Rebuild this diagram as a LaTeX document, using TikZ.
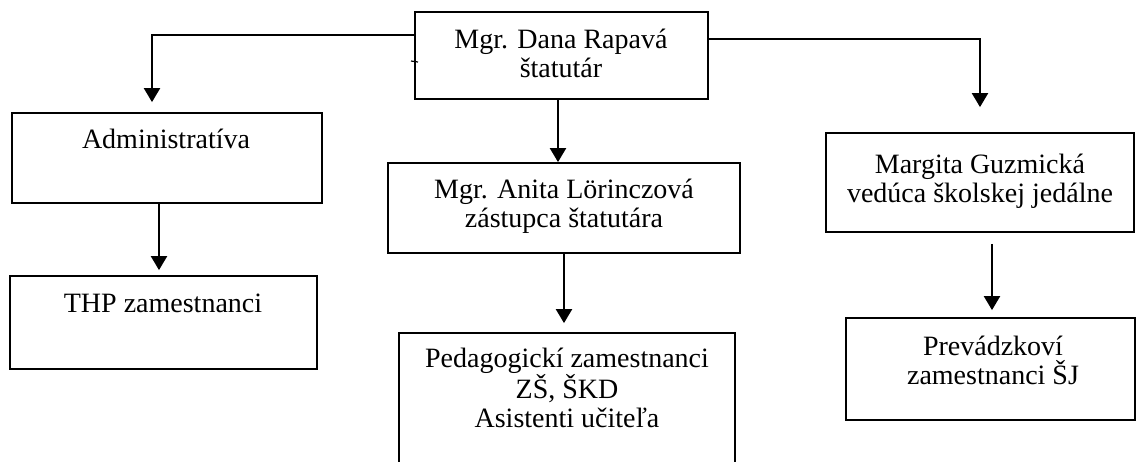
\documentclass[tikz,border=0pt]{standalone}
\usepackage{fontspec}
\setmainfont{Liberation Serif}
\usetikzlibrary{positioning}
\usetikzlibrary{arrows.meta}

\tikzset{
  box/.style={draw, rectangle, line width=1.8pt, inner sep=0pt},
  lbl/.style={align=center, inner sep=0pt, anchor=base, font=\fontsize{28}{28.5}\selectfont},
  arr/.style={line width=2.2pt, -{Triangle[length=14pt, width=16pt]}},
}

\begin{document}
\begin{tikzpicture}[x=1pt, y=-1pt]
  \useasboundingbox (0,0) rectangle (1136,461);
  % boxes
  \node (dana)  [box, minimum width=293pt, minimum height=87pt]  at (561.5,55.5) {};
  \node (adm)   [box, minimum width=310pt, minimum height=90pt]  at (167,158) {};
  \node (thp)   [box, minimum width=307pt, minimum height=93pt]  at (163.5,322.5) {};
  \node (anita) [box, minimum width=352pt, minimum height=90pt]  at (564,208) {};
  \node (ped)   [box, minimum width=336pt, minimum height=147pt] at (567,406.5) {};
  \node (marg)  [box, minimum width=308pt, minimum height=99pt]  at (980,182.5) {};
  \node (prev)  [box, minimum width=289pt, minimum height=102pt] at (990.5,369) {};
  % texts (base = last line)
  \node (dana-t)  [lbl] at (561,77)  {Mgr. Dana Rapavá\\štatutár};
  \node (adm-t)   [lbl] at (166,148) {Administratíva};
  \node (thp-t)   [lbl] at (163,312) {THP zamestnanci};
  \node (anita-t) [lbl] at (564,227) {Mgr. Anita Lörinczová\\zástupca štatutára};
  \node (ped-t)   [lbl] at (567,427) {Pedagogickí zamestnanci\\ZŠ, ŠKD\\Asistenti učiteľa};
  \node (marg-t)  [lbl] at (980,202) {Margita Guzmická\\vedúca školskej jedálne};
  \node (prev-t)  [lbl] at (993,384) {Prevádzkoví\\zamestnanci ŠJ};
  % arrows
  \draw[arr, shorten >=10pt] (dana.west |- 0,35) -| ([xshift=-15pt]adm.north);
  \draw[arr, shorten >=25pt] (dana.east |- 0,39) -| (marg.north);
  \draw[arr] ([xshift=-3.5pt]dana.south) -- ([xshift=-3.5pt]dana.south |- anita.north);
  \draw[arr, shorten >=5pt] ([xshift=-8pt]adm.south) -- ([xshift=-8pt]adm.south |- thp.north);
  \draw[arr, shorten >=9pt] (anita.south) -- (anita.south |- ped.north);
  \draw[arr, shorten <=11pt, shorten >=7pt] ([xshift=12pt]marg.south) -- ([xshift=12pt]marg.south |- prev.north);
  \draw[line width=1.2pt] (411,61) -- (418,62);
\end{tikzpicture}
\end{document}
